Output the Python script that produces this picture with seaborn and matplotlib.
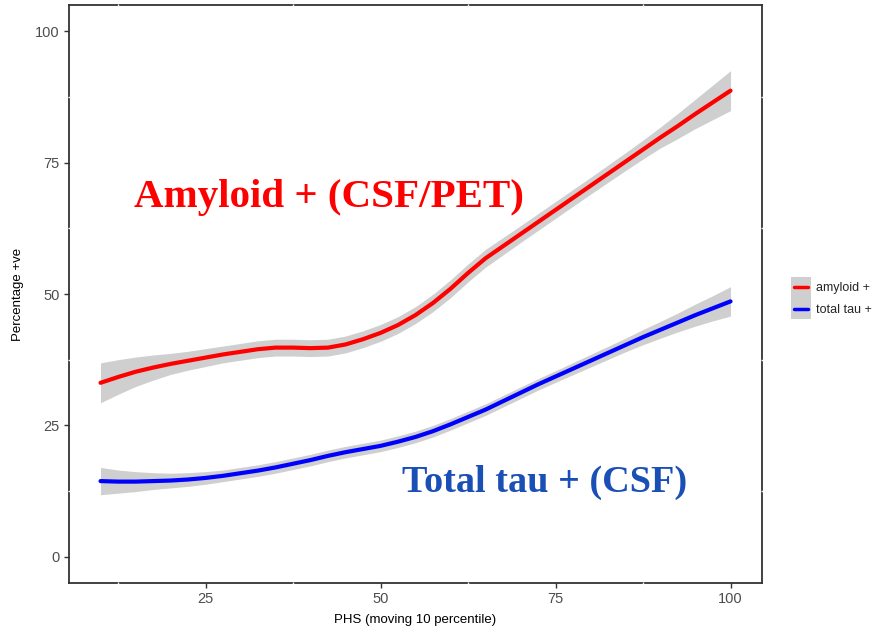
import numpy as np
import pandas as pd
import matplotlib
matplotlib.use("Agg")
import matplotlib.pyplot as plt
import seaborn as sns
from matplotlib.lines import Line2D
from matplotlib.patches import Rectangle
from matplotlib.legend_handler import HandlerBase

# PHS percentile (moving 10 percentile window)
phs = [10, 12.5, 15, 17.5, 20, 22.5, 25, 27.5, 30, 32.5, 35, 37.5, 40, 42.5,
       45, 47.5, 50, 52.5, 55, 57.5, 60, 62.5, 65, 67.5, 70, 72.5, 75, 77.5,
       80, 82.5, 85, 87.5, 90, 92.5, 95, 97.5, 100]

# Smoothed percentage positive and confidence half-width, per marker
amyloid = [33.1, 34.2, 35.2, 36.0, 36.7, 37.3, 37.9, 38.5, 39.0, 39.5, 39.8,
           39.8, 39.7, 39.8, 40.4, 41.4, 42.6, 44.1, 46.0, 48.3, 51.0, 54.0,
           56.8, 59.1, 61.4, 63.7, 66.0, 68.3, 70.6, 72.9, 75.2, 77.5, 79.8,
           82.0, 84.3, 86.5, 88.7]
amyloid_ci = [3.8, 3.3, 2.8, 2.4, 2.0, 1.8, 1.7, 1.6, 1.6, 1.6, 1.6, 1.6, 1.6,
              1.6, 1.6, 1.6, 1.6, 1.6, 1.6, 1.65, 1.7, 1.7, 1.7, 1.65, 1.6,
              1.6, 1.6, 1.6, 1.6, 1.65, 1.7, 1.8, 2.0, 2.4, 2.8, 3.3, 3.8]
tau = [14.4, 14.3, 14.3, 14.4, 14.5, 14.7, 15.0, 15.4, 15.9, 16.4, 17.0,
       17.7, 18.4, 19.2, 19.9, 20.5, 21.1, 21.9, 22.8, 23.9, 25.2, 26.6,
       28.0, 29.6, 31.2, 32.8, 34.3, 35.8, 37.3, 38.8, 40.3, 41.8, 43.2,
       44.6, 46.0, 47.3, 48.6]
tau_ci = [2.6, 2.2, 1.9, 1.6, 1.4, 1.3, 1.2, 1.1, 1.1, 1.1, 1.1, 1.1, 1.1,
          1.1, 1.1, 1.1, 1.1, 1.1, 1.1, 1.1, 1.1, 1.1, 1.1, 1.1, 1.1, 1.1,
          1.1, 1.15, 1.2, 1.25, 1.3, 1.45, 1.6, 1.8, 2.1, 2.4, 2.8]

series_names = ["amyloid +", "total tau +"]
series_colors = ["#FF0000", "#0000FF"]
x_ticks = [25, 50, 75, 100]
y_ticks = [0, 25, 50, 75, 100]

sns.set_theme(style="white")
plt.rcParams["font.family"] = ["Liberation Sans", "DejaVu Sans"]

frames = []
for name, vals, ci in [(series_names[0], amyloid, amyloid_ci),
                       (series_names[1], tau, tau_ci)]:
    v = np.array(vals)
    c = np.array(ci)
    frames.append(pd.DataFrame({"phs": phs, "pct": v, "lo": v - c, "hi": v + c,
                                "marker": name}))
df = pd.concat(frames, ignore_index=True)

fig = plt.figure(figsize=(8.77, 6.34), dpi=100)
ax = fig.add_axes([0.0787, 0.0804, 0.7902, 0.9117])

ribbon = "#CFCFCF"
for name in series_names:
    d = df[df["marker"] == name]
    ax.fill_between(d["phs"], d["lo"], d["hi"], color=ribbon, lw=0, zorder=1)

sns.lineplot(data=df, x="phs", y="pct", hue="marker", hue_order=series_names,
             palette=series_colors, linewidth=3.0, ax=ax, legend=False, zorder=2)

ax.set_xlim(5.5, 104.5)
ax.set_ylim(-5, 105)
ax.set_xticks(x_ticks)
ax.set_yticks(y_ticks)
ax.set_xticklabels([str(t) for t in x_ticks])
ax.set_yticklabels([str(t) for t in y_ticks])
ax.tick_params(axis="both", which="major", direction="out", length=3.5,
               width=1.0, color="#333333", labelcolor="#4D4D4D",
               labelsize=10.5, pad=3, bottom=True, left=True)
# faint breaks in the panel border at the minor grid positions
ax.set_xticks([12.5, 37.5, 62.5, 87.5], minor=True)
ax.set_yticks([12.5, 37.5, 62.5, 87.5], minor=True)
ax.tick_params(axis="both", which="minor", direction="inout", length=1.4,
               width=1.0, color="#F2F2F2", bottom=True, left=True,
               top=True, right=True)
ax.xaxis.set_zorder(3)
ax.yaxis.set_zorder(3)
for s in ax.spines.values():
    s.set_visible(True)
    s.set_color("#333333")
    s.set_linewidth(1.3)

ax.set_xlabel("PHS (moving 10 percentile)", fontsize=9.5, color="black", labelpad=6)
ax.set_ylabel("Percentage +ve", fontsize=9.5, color="black", labelpad=8)

# Annotations naming each curve
ax.text(42.6, 68.3, "Amyloid + (CSF/PET)", color="#FF0000", fontsize=29.5,
        fontweight="bold", family=["Liberation Serif", "DejaVu Serif"],
        ha="center", va="center")
ax.text(73.4, 14.1, "Total tau + (CSF)", color="#1A4FB5", fontsize=27.5,
        fontweight="bold", family=["Liberation Serif", "DejaVu Serif"],
        ha="center", va="center")


class KeyHandler(HandlerBase):
    """Grey ribbon-coloured key with the series line across it."""

    def create_artists(self, legend, orig_handle, xdescent, ydescent, width,
                       height, fontsize, trans):
        rect = Rectangle((-xdescent, -ydescent), width, height,
                         facecolor=ribbon, edgecolor="none", transform=trans)
        line = Line2D([-xdescent + 2, -xdescent + width - 2],
                      [-ydescent + height / 2] * 2,
                      color=orig_handle.get_color(), lw=2.5, transform=trans)
        return [rect, line]


handles = [Line2D([], [], color=c) for c in series_colors]
leg = fig.legend(handles, series_names, loc="center left",
                 bbox_to_anchor=(0.902, 0.53), frameon=False, fontsize=9,
                 handler_map={Line2D: KeyHandler()}, handlelength=1.6,
                 handleheight=2.2, labelspacing=0.05, handletextpad=0.4,
                 borderpad=0.0, borderaxespad=0.0)

fig.savefig("out.png", dpi=100, facecolor="white")
